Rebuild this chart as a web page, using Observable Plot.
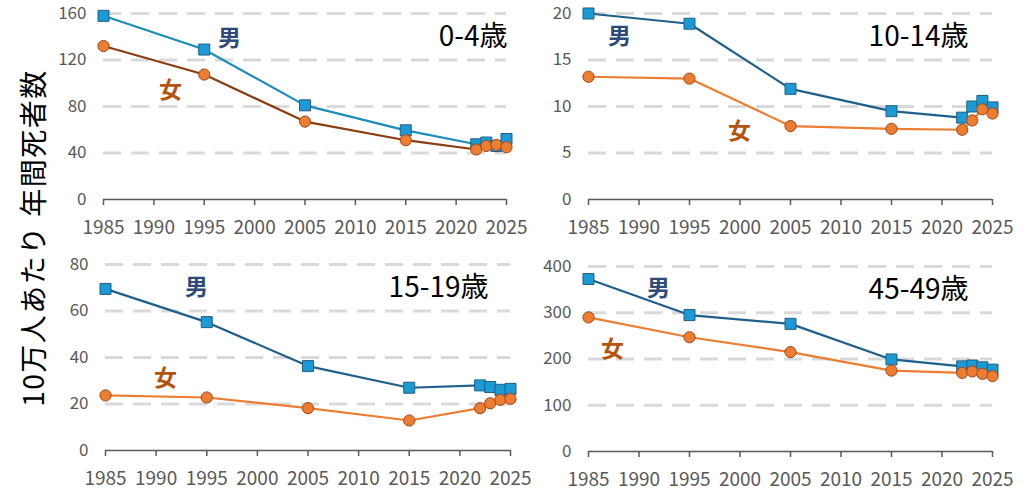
<!DOCTYPE html>
<html><head><meta charset="utf-8">
<script src="https://cdn.jsdelivr.net/npm/d3@7"></script>
<script src="https://cdn.jsdelivr.net/npm/@observablehq/plot@0.6"></script>
<style>
body{margin:0;background:#fff;}
#wrap{position:relative;width:1024px;height:490px;overflow:hidden;font-family:"Noto Sans CJK JP",sans-serif;background:#fff;}
.panel{position:absolute;}
.panel svg{overflow:visible;}
#ylab{position:absolute;left:32px;top:238px;transform:translate(-50%,-50%) rotate(-90deg);font-size:28px;white-space:nowrap;color:#000;line-height:1;letter-spacing:1.5px;}
</style></head><body>
<div id="wrap"><div id="ylab">10万人あたり&#x2005;年間死者数</div></div>
<script>
// ---- data ----
const years = [1985, 1995, 2005, 2015, 2022, 2023, 2024, 2025];
const xTicks = [1985, 1990, 1995, 2000, 2005, 2010, 2015, 2020, 2025];
const ageLabels = ["0-4歳", "10-14歳", "15-19歳", "45-49歳"];
const maleLabel = "男";
const femaleLabel = "女";

const male_0_4    = [158, 129, 81, 59.5, 47.5, 49, 46, 52];
const female_0_4  = [132, 107.5, 67, 51, 43, 46, 47, 45];
const male_10_14   = [20, 18.9, 11.9, 9.5, 8.8, 10, 10.6, 9.9];
const female_10_14 = [13.2, 13.0, 7.9, 7.6, 7.5, 8.5, 9.7, 9.25];
const male_15_19   = [69.5, 55.2, 36.3, 27.0, 28.0, 27.3, 26.1, 26.5];
const female_15_19 = [23.7, 22.8, 18.2, 12.9, 18.2, 20.3, 21.8, 22.2];
const male_45_49   = [373, 295, 276, 199, 184, 186, 182, 177];
const female_45_49 = [290, 247, 215, 175, 170, 173, 168, 163];

const yTicks_0_4 = [0, 40, 80, 120, 160];
const yTicks_10_14 = [0, 5, 10, 15, 20];
const yTicks_15_19 = [0, 20, 40, 60, 80];
const yTicks_45_49 = [0, 100, 200, 300, 400];

// ---- layout / style ----
const panels = [
  {title: ageLabels[0], male: male_0_4, female: female_0_4, ticks: yTicks_0_4,
   left: 0, top: 0, width: 520, height: 245, mL: 103, mR: 14, mT: 13, mB: 46,
   maleLine: "#1C8DBA", femaleLine: "#8B3D10",
   mPos: [126, 25], fPos: [67, 77], tPos: [1, 24]},
  {title: ageLabels[1], male: male_10_14, female: female_10_14, ticks: yTicks_10_14,
   left: 520, top: 0, width: 504, height: 245, mL: 68, mR: 32, mT: 13, mB: 46,
   maleLine: "#1F5F8B", femaleLine: "#ED7D31",
   mPos: [31, 23], fPos: [151, 118], tPos: [-24, 24]},
  {title: ageLabels[2], male: male_15_19, female: female_15_19, ticks: yTicks_15_19,
   left: 0, top: 245, width: 520, height: 245, mL: 105, mR: 10, mT: 19, mB: 40,
   maleLine: "#1F5F8B", femaleLine: "#ED7D31",
   mPos: [91, 23], fPos: [60, 114], tPos: [-22, 24]},
  {title: ageLabels[3], male: male_45_49, female: female_45_49, ticks: yTicks_45_49,
   left: 520, top: 245, width: 504, height: 245, mL: 68, mR: 32, mT: 21, mB: 39,
   maleLine: "#1F5F8B", femaleLine: "#ED7D31",
   mPos: [70, 22], fPos: [24, 83], tPos: [-24, 24]}
];

const axisColor = "#595959";
const font = "'Noto Sans CJK JP', sans-serif";

for (const p of panels) {
  const mData = years.map((yr, i) => ({year: yr, v: p.male[i]}));
  const fData = years.map((yr, i) => ({year: yr, v: p.female[i]}));
  const yMax = p.ticks[p.ticks.length - 1];
  const chart = Plot.plot({
    width: p.width, height: p.height,
    marginLeft: p.mL, marginRight: p.mR, marginTop: p.mT, marginBottom: p.mB,
    style: {fontFamily: font, background: "transparent", overflow: "visible"},
    x: {domain: [1985, 2025], ticks: xTicks, tickFormat: "d"},
    y: {domain: [0, yMax], ticks: p.ticks},
    marks: [
      Plot.gridY(p.ticks.slice(1), {stroke: "#D9D9D9", strokeOpacity: 1, strokeWidth: 3, strokeDasharray: "18,10"}),
      Plot.ruleY([0], {stroke: axisColor, strokeWidth: 1.5}),
      Plot.axisX({ticks: xTicks, tickFormat: "d", tickSize: 6, tickPadding: 15, color: axisColor, strokeWidth: 1.5, fontSize: 19, label: null}),
      Plot.axisY({ticks: p.ticks, tickSize: 0, tickPadding: 17, color: axisColor, fontSize: 17, label: null}),
      Plot.line(mData, {x: "year", y: "v", stroke: p.maleLine, strokeWidth: 2.2}),
      Plot.dot(mData, {x: "year", y: "v", symbol: "square", r: 6.2, fill: "#1C9AD6", stroke: "#1F5F7F", strokeWidth: 1}),
      Plot.line(fData, {x: "year", y: "v", stroke: p.femaleLine, strokeWidth: 2.2}),
      Plot.dot(fData, {x: "year", y: "v", symbol: "circle", r: 5.6, fill: "#ED7D31", stroke: "#A0461A", strokeWidth: 1}),
      Plot.text([maleLabel], {text: d => d, frameAnchor: "top-left", dx: p.mPos[0], dy: p.mPos[1], textAnchor: "middle", lineAnchor: "middle", fill: "#2E4A78", fontSize: 23, fontWeight: "bold"}),
      Plot.text([femaleLabel], {text: d => d, frameAnchor: "top-left", dx: p.fPos[0], dy: p.fPos[1], textAnchor: "middle", lineAnchor: "middle", fill: "#B4530E", fontSize: 23, fontWeight: "bold"}),
      Plot.text([p.title], {text: d => d, frameAnchor: "top-right", dx: p.tPos[0], dy: p.tPos[1], textAnchor: "end", lineAnchor: "middle", fill: "#000", fontSize: 28})
    ]
  });
  const div = document.createElement("div");
  div.className = "panel";
  div.style.left = p.left + "px";
  div.style.top = p.top + "px";
  div.appendChild(chart);
  document.getElementById("wrap").appendChild(div);
}
</script>
</body></html>
